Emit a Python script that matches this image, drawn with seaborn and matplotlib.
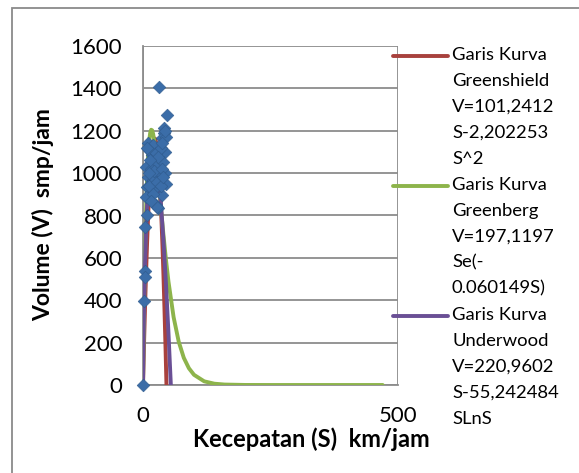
import numpy as np
import pandas as pd
import matplotlib
matplotlib.use("Agg")
import matplotlib.pyplot as plt
import seaborn as sns
from matplotlib.lines import Line2D
from matplotlib.patches import Rectangle

# ---- data ----
obs_speed = [32, 48, 42, 41, 37, 10, 20, 43, 17, 27, 40, 6, 16, 43, 10, 33, 20, 46, 7, 24,
             6, 37, 26, 30, 27, 8, 4, 3, 3, 2, 0,
             12, 25, 35, 30, 14, 22, 38, 12, 28, 35, 20, 15, 40, 45, 44, 38, 8, 12]
obs_volume = [1405, 1274, 1212, 1188, 1164, 1141, 1133, 1101, 1086, 1046, 1054, 1030, 1020, 999,
              983, 983, 967, 951, 936, 928, 889, 897, 850, 834, 842, 802, 745, 540, 512, 398, 0,
              1110, 1095, 1120, 1075, 1060, 1010, 1020, 940, 960, 940, 900, 870, 980, 1170, 1200,
              1140, 1120, 1000]

gs_speed = [0, 2, 4, 6, 8, 10, 12, 14, 16, 18, 20, 22, 23, 24, 26, 28, 30, 32, 34, 36, 38,
            40, 42, 44, 46]
gs_volume = [0, 193.7, 369.7, 528.2, 669.0, 792.2, 897.8, 985.7, 1056.1, 1108.8, 1143.9,
             1161.4, 1163.5, 1161.3, 1143.6, 1108.2, 1055.2, 984.6, 896.4, 790.6, 667.1,
             526.0, 367.3, 191.0, 0]

gb_speed = [0, 2, 4, 6, 8, 10, 12, 14, 16, 18, 20, 24, 28, 32, 36, 40, 45, 50, 60, 70, 80,
            90, 100, 120, 140, 160, 200, 250, 300, 400, 470]
gb_volume = [0, 349.6, 619.9, 824.5, 974.6, 1080.2, 1149.4, 1188.9, 1204.8, 1201.8, 1183.9,
             1117.0, 1024.4, 920.3, 813.9, 711.2, 591.7, 486.9, 320.3, 204.8, 128.2, 79.1,
             48.1, 17.3, 6.1, 2.1, 0.2, 0, 0, 0, 0]

uw_speed = [0, 1, 2, 4, 6, 8, 10, 12, 15, 20, 25, 30, 35, 40, 45, 50, 54.6]
uw_volume = [0, 221.0, 365.4, 577.5, 731.9, 848.7, 937.6, 1004.2, 1070.4, 1109.4, 1078.5,
             992.2, 859.4, 686.9, 480.1, 242.6, 0]

legend_labels = [
    ["Garis Kurva", "Greenshield", "V=101,2412", "S-2,202253", "S^2"],
    ["Garis Kurva", "Greenberg", "V=197,1197", "Se(-", "0.060149S)"],
    ["Garis Kurva", "Underwood", "V=220,9602", "S-55,242484", "SLnS"],
]
x_ticks = [0, 500]
y_ticks = [0, 200, 400, 600, 800, 1000, 1200, 1400, 1600]
x_label = "Kecepatan (S)  km/jam"
y_label = "Volume (V)  smp/jam"

# ---- style ----
sns.set_theme(style="white")
plt.rcParams['font.family'] = ['Lato', 'DejaVu Sans']

RED = "#A8413D"
GREEN = "#8DB44B"
PURPLE = "#6A4F95"
BLUE = "#3B6DA8"
GRID = "#8C8C8C"

W, H = 579, 473
fig = plt.figure(figsize=(W / 100, H / 100), dpi=100)
fig.patch.set_facecolor("white")

# chart-area border
fig.add_artist(Rectangle((11.5 / W, -0.1), 1.2, 1 - 8.5 / H + 0.1,
                         transform=fig.transFigure, fill=False,
                         edgecolor="#8A8A8A", linewidth=1.3))

L, R, T, B = 143, 398, 46, 385
ax = fig.add_axes([L / W, 1 - B / H, (R - L) / W, (B - T) / H])

sns.lineplot(x=gs_speed, y=gs_volume, ax=ax, color=RED, linewidth=2.8,
             sort=False, estimator=None, zorder=3)
sns.lineplot(x=gb_speed, y=gb_volume, ax=ax, color=GREEN, linewidth=2.8,
             sort=False, estimator=None, zorder=3)
sns.lineplot(x=uw_speed, y=uw_volume, ax=ax, color=PURPLE, linewidth=2.8,
             sort=False, estimator=None, zorder=3)
sns.scatterplot(x=obs_speed, y=obs_volume, ax=ax, marker="D", s=42, color=BLUE,
                edgecolor="#2F5A8C", linewidth=0.4, zorder=5, clip_on=False)

ax.set_xlim(0, 500)
ax.set_ylim(0, 1600)
ax.set_xticks(x_ticks)
ax.set_yticks(y_ticks)
ax.set_xticklabels([str(v) for v in x_ticks])
ax.set_yticklabels([str(v) for v in y_ticks])
ax.grid(True, color=GRID, linewidth=1.3)
ax.set_axisbelow(True)
for s in ["top", "right"]:
    ax.spines[s].set_visible(False)
for s in ["left", "bottom"]:
    ax.spines[s].set_color(GRID)
    ax.spines[s].set_linewidth(1.3)
ax.tick_params(axis="both", direction="out", length=5, width=1.3, color=GRID,
               labelsize=16, labelcolor="black", pad=4)
ax.tick_params(axis="y", pad=10)
ax.tick_params(axis="x", pad=10)
ax.set_xlabel("")
ax.set_ylabel("")

fig.text(311 / W, 1 - 439 / H, x_label, ha="center", va="center",
         fontsize=17, fontweight="bold", color="black")
fig.text(43 / W, 1 - 215 / H, y_label, ha="center", va="center", rotation=90,
         fontsize=16.5, fontweight="bold", color="black")

# legend (manual, top aligned like the original)
entry_y = [55.7, 185.7, 315.7]
colors = [RED, GREEN, PURPLE]
for ey, col, lines in zip(entry_y, colors, legend_labels):
    fig.add_artist(Line2D([393 / W, 448 / W], [1 - ey / H, 1 - ey / H],
                          transform=fig.transFigure, color=col, linewidth=2.8))
    for i, txt in enumerate(lines):
        fig.text(452 / W, 1 - (ey - 1 + 26 * i) / H, txt, ha="left", va="center",
                 fontsize=13.3, color="black")

fig.savefig("out.png", dpi=100)
